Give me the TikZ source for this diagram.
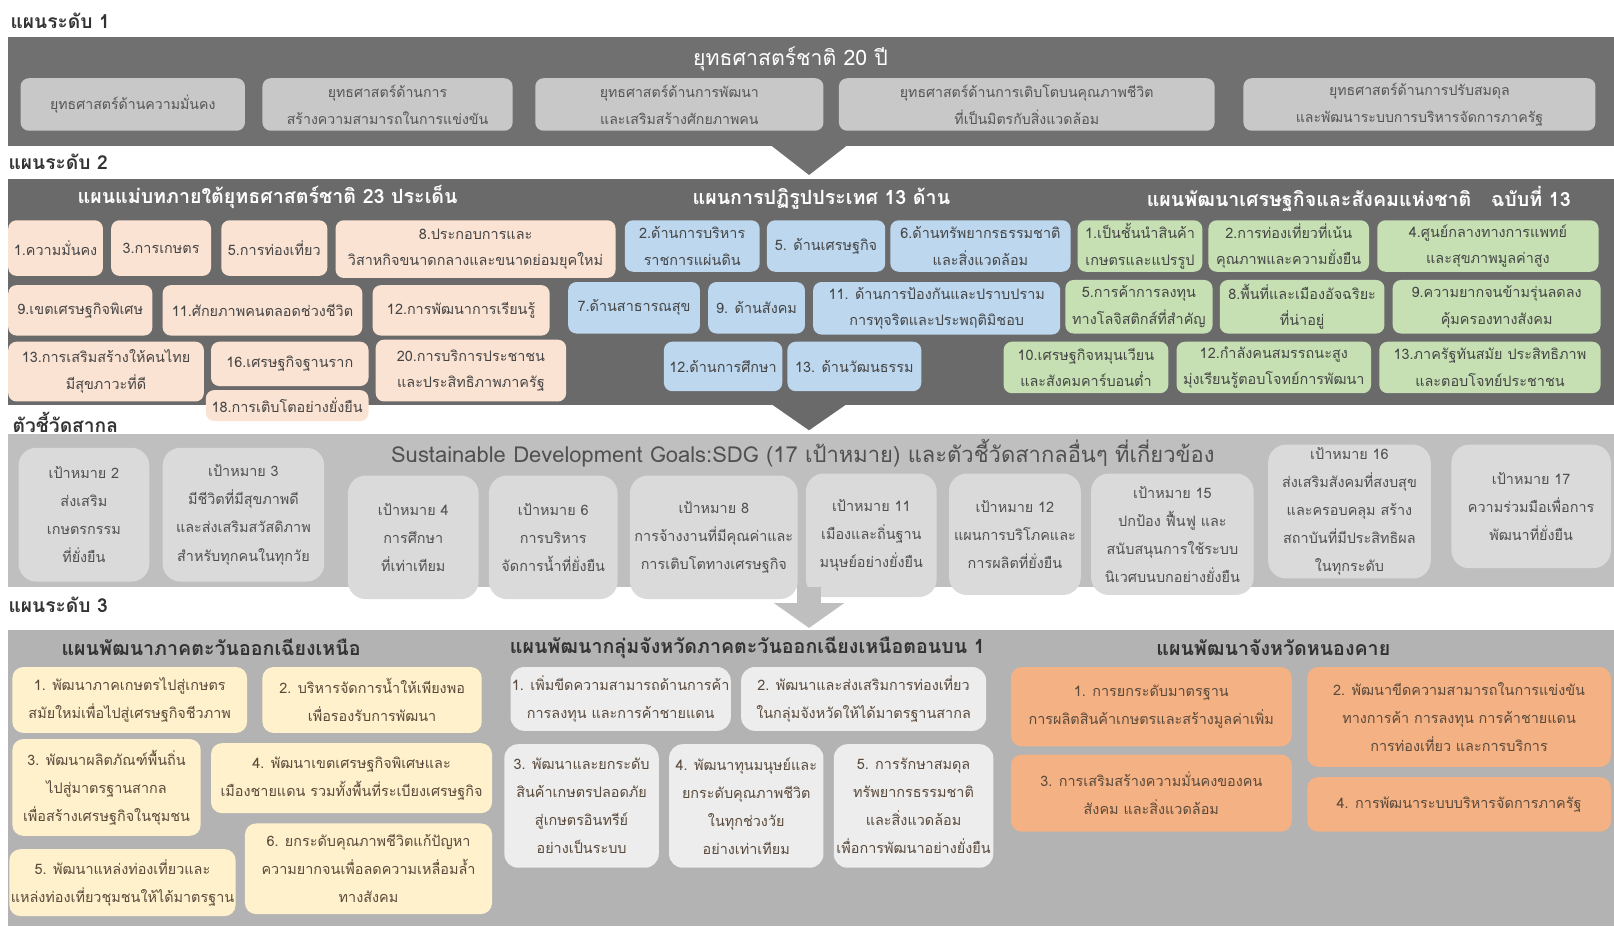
\documentclass[tikz,border=0pt]{standalone}
\usepackage{fontspec}
\setmainfont[Script=Thai]{Loma}
\definecolor{bandA}{HTML}{707070}
\definecolor{boxA}{HTML}{C8C8C8}
\definecolor{txtA}{HTML}{555555}
\definecolor{bandB}{HTML}{6A6A6A}
\definecolor{peach}{HTML}{FBE3D3}
\definecolor{blueb}{HTML}{BDD7EE}
\definecolor{greenb}{HTML}{C6E0B4}
\definecolor{txtB}{HTML}{454545}
\definecolor{bandC}{HTML}{BFBFBF}
\definecolor{boxC}{HTML}{DADADA}
\definecolor{txtC}{HTML}{505050}
\definecolor{bandD}{HTML}{B3B3B3}
\definecolor{yelb}{HTML}{FEF1CB}
\definecolor{whb}{HTML}{EDEDED}
\definecolor{orab}{HTML}{F4B183}
\definecolor{txtD}{HTML}{5A4A3C}
\definecolor{lbl}{HTML}{333333}
\tikzset{
  bx/.style={rounded corners=6pt, inner sep=1pt, align=center, font=\fontsize{10.5pt}{19.5pt}\selectfont},
  band/.style={inner sep=0pt},
  boxa/.style={bx, fill=boxA, text=txtA, font=\fontsize{10.3pt}{19.5pt}\selectfont},
  pe/.style={bx, fill=peach, text=txtB},
  bl/.style={bx, fill=blueb, text=txtB},
  gr/.style={bx, fill=greenb, text=txtB},
  sdg/.style={bx, rounded corners=13pt, fill=boxC, text=txtC, font=\fontsize{10.5pt}{20.5pt}\selectfont},
  ye/.style={bx, rounded corners=8pt, fill=yelb, text=txtD, font=\fontsize{10.5pt}{20.5pt}\selectfont},
  wh/.style={bx, rounded corners=10pt, fill=whb, text=txtD, font=\fontsize{10.5pt}{20.5pt}\selectfont},
  or/.style={bx, rounded corners=8pt, fill=orab, text=txtD, font=\fontsize{10.5pt}{20.5pt}\selectfont},
  lvl/.style={anchor=west, inner sep=0pt, text=lbl, font=\bfseries\fontsize{14pt}{16pt}\selectfont},
  headw/.style={inner sep=0pt, text=white, font=\bfseries\fontsize{14.3pt}{17pt}\selectfont},
  headd/.style={inner sep=0pt, text=lbl, font=\bfseries\fontsize{14.3pt}{17pt}\selectfont},
}
\newcommand{\bx}[7]{\node[#1, minimum width={(#5-#3)*0.75pt}, minimum height={(#6-#4)*0.75pt}] (#2) at ({(#3+#5)/2},{(#4+#6)/2}) {#7};}
\begin{document}
\begin{tikzpicture}[x=0.75pt,y=-0.75pt]
\useasboundingbox (0,0) rectangle (1568,900);
\fill[white] (0,0) rectangle (1568,900);
% ---------- level 1
\node[lvl] (l1) at (10,20) {แผนระดับ 1};
\bx{band, fill=bandA}{b1}{8}{36}{1568}{142}{}
\node[inner sep=0pt, text=white, font=\fontsize{15.5pt}{18pt}\selectfont] (t1) at (768,57) {ยุทธศาสตร์ชาติ 20 ปี};
\bx{boxa}{a1}{20}{76}{238}{127}{ยุทธศาสตร์ด้านความมั่นคง}
\bx{boxa}{a2}{255}{76}{498}{127}{ยุทธศาสตร์ด้านการ\\สร้างความสามารถในการแข่งขัน}
\bx{boxa}{a3}{520}{76}{800}{127}{ยุทธศาสตร์ด้านการพัฒนา\\และเสริมสร้างศักยภาพคน}
\bx{boxa}{a4}{815}{76}{1180}{127}{ยุทธศาสตร์ด้านการเติบโตบนคุณภาพชีวิต\\ที่เป็นมิตรกับสิ่งแวดล้อม}
\bx{boxa}{a5}{1208}{76}{1550}{127}{ยุทธศาสตร์ด้านการปรับสมดุล\\และพัฒนาระบบการบริหารจัดการภาครัฐ}
\fill[bandA] (750,142) -- (822,142) -- (786,170) -- cycle;
% ---------- level 2
\node[lvl] (l2) at (8,157) {แผนระดับ 2};
\bx{band, fill=bandB}{b2}{8}{174}{1568}{393}{}
\node[headw] (h21) at (260,191) {แผนแม่บทภายใต้ยุทธศาสตร์ชาติ 23 ประเด็น};
\node[headw] (h22) at (798,193) {แผนการปฏิรูปประเทศ 13 ด้าน};
\node[headw] (h23) at (1320,193) {แผนพัฒนาเศรษฐกิจและสังคมแห่งชาติ\quad ฉบับที่ 13};
% peach
\bx{pe}{p1}{8}{214}{100}{268}{1.ความมั่นคง}
\bx{pe}{p3}{108}{214}{205}{268}{3.การเกษตร}
\bx{pe}{p5}{215}{214}{318}{268}{5.การท่องเที่ยว}
\bx{pe}{p8}{326}{214}{598}{270}{8.ประกอบการและ\\วิสาหกิจขนาดกลางและขนาดย่อมยุคใหม่}
\bx{pe}{p9}{8}{277}{148}{326}{9.เขตเศรษฐกิจพิเศษ}
\bx{pe}{p11}{158}{277}{352}{326}{11.ศักยภาพคนตลอดช่วงชีวิต}
\bx{pe}{p12}{362}{277}{534}{326}{12.การพัฒนาการเรียนรู้}
\bx{pe}{p13}{8}{332}{198}{390}{13.การเสริมสร้างให้คนไทย\\มีสุขภาวะที่ดี}
\bx{pe}{p16}{205}{332}{358}{375}{16.เศรษฐกิจฐานราก}
\bx{pe}{p20}{365}{330}{550}{390}{20.การบริการประชาชน\\และประสิทธิภาพภาครัฐ}
\bx{pe}{p18}{200}{379}{358}{409}{18.การเติบโตอย่างยั่งยืน}
% blue
\bx{bl}{r2}{607}{214}{738}{264}{2.ด้านการบริหาร\\ราชการแผ่นดิน}
\bx{bl}{r5}{745}{214}{860}{264}{5. ด้านเศรษฐกิจ}
\bx{bl}{r6}{865}{214}{1040}{264}{6.ด้านทรัพยากรธรรมชาติ\\และสิ่งแวดล้อม}
\bx{bl}{r7}{552}{274}{680}{324}{7.ด้านสาธารณสุข}
\bx{bl}{r9}{688}{274}{782}{324}{9. ด้านสังคม}
\bx{bl}{r11}{790}{274}{1030}{325}{11. ด้านการป้องกันและปราบปราม\\การทุจริตและประพฤติมิชอบ}
\bx{bl}{r12}{645}{332}{760}{380}{12.ด้านการศึกษา}
\bx{bl}{r13}{765}{332}{895}{380}{13. ด้านวัฒนธรรม}
% green
\bx{gr}{g1}{1047}{214}{1168}{264}{1.เป็นชั้นนำสินค้า\\เกษตรและแปรรูป}
\bx{gr}{g2}{1174}{214}{1330}{264}{2.การท่องเที่ยวที่เน้น\\คุณภาพและความยั่งยืน}
\bx{gr}{g4}{1338}{214}{1553}{264}{4.ศูนย์กลางทางการแพทย์\\และสุขภาพมูลค่าสูง}
\bx{gr}{g5}{1035}{272}{1178}{324}{5.การค้าการลงทุน\\ทางโลจิสติกส์ที่สำคัญ}
\bx{gr}{g8}{1185}{272}{1345}{324}{8.พื้นที่และเมืองอัจฉริยะ\\ที่น่าอยู่}
\bx{gr}{g9}{1353}{272}{1555}{324}{9.ความยากจนข้ามรุ่นลดลง\\คุ้มครองทางสังคม}
\bx{gr}{g10}{975}{332}{1135}{382}{10.เศรษฐกิจหมุนเวียน\\และสังคมคาร์บอนต่ำ}
\bx{gr}{g12}{1143}{332}{1332}{382}{12.กำลังคนสมรรถนะสูง\\มุ่งเรียนรู้ตอบโจทย์การพัฒนา}
\bx{gr}{g13}{1340}{332}{1555}{382}{13.ภาครัฐทันสมัย ประสิทธิภาพ\\และตอบโจทย์ประชาชน}
\fill[bandB] (750,393) -- (822,393) -- (786,418) -- cycle;
% ---------- SDG
\node[lvl] (l3) at (12,410) {ตัวชี้วัดสากล};
\bx{band, fill=bandC}{b3}{8}{422}{1568}{570}{}
\node[inner sep=0pt, text=txtC, font=\fontsize{16pt}{18pt}\selectfont] (t3) at (780,440) {Sustainable Development Goals:SDG (17 เป้าหมาย) และตัวชี้วัดสากลอื่นๆ ที่เกี่ยวข้อง};
\bx{sdg}{s2}{18}{435}{145}{565}{เป้าหมาย 2\\ส่งเสริม\\เกษตรกรรม\\ที่ยั่งยืน}
\bx{sdg}{s3}{158}{435}{315}{565}{เป้าหมาย 3\\มีชีวิตที่มีสุขภาพดี\\และส่งเสริมสวัสดิภาพ\\สำหรับทุกคนในทุกวัย}
\bx{sdg}{s4}{338}{462}{465}{582}{เป้าหมาย 4\\การศึกษา\\ที่เท่าเทียม}
\bx{sdg}{s6}{475}{462}{600}{582}{เป้าหมาย 6\\การบริหาร\\จัดการน้ำที่ยั่งยืน}
\bx{sdg}{s8}{612}{462}{775}{582}{เป้าหมาย 8\\การจ้างงานที่มีคุณค่าและ\\การเติบโตทางเศรษฐกิจ}
\bx{sdg}{s11}{783}{460}{910}{580}{เป้าหมาย 11\\เมืองและถิ่นฐาน\\มนุษย์อย่างยั่งยืน}
\bx{sdg}{s12}{922}{460}{1050}{578}{เป้าหมาย 12\\แผนการบริโภคและ\\การผลิตที่ยั่งยืน}
\bx{sdg}{s15}{1060}{460}{1218}{578}{เป้าหมาย 15\\ปกป้อง ฟื้นฟู และ\\สนับสนุนการใช้ระบบ\\นิเวศบนบกอย่างยั่งยืน}
\bx{sdg}{s16}{1232}{432}{1390}{562}{เป้าหมาย 16\\ส่งเสริมสังคมที่สงบสุข\\และครอบคลุม สร้าง\\สถาบันที่มีประสิทธิผล\\ในทุกระดับ}
\bx{sdg}{s17}{1410}{432}{1565}{552}{เป้าหมาย 17\\ความร่วมมือเพื่อการ\\พัฒนาที่ยั่งยืน}
\fill[bandC] (774,570) rectangle (798,586);
\fill[bandC] (752,586) -- (820,586) -- (786,610) -- cycle;
% ---------- level 3
\node[lvl] (l4) at (8,588) {แผนระดับ 3};
\bx{band, fill=bandD}{b4}{8}{612}{1568}{900}{}
\node[headd] (h41) at (205,629) {แผนพัฒนาภาคตะวันออกเฉียงเหนือ};
\node[headd] (h42) at (726,629) {แผนพัฒนากลุ่มจังหวัดภาคตะวันออกเฉียงเหนือตอนบน 1};
\node[headd] (h43) at (1237,629) {แผนพัฒนาจังหวัดหนองคาย};
\bx{ye}{y1}{12}{648}{240}{712}{1. พัฒนาภาคเกษตรไปสู่เกษตร\\สมัยใหม่เพื่อไปสู่เศรษฐกิจชีวภาพ}
\bx{ye}{y2}{255}{648}{468}{712}{2. บริหารจัดการน้ำให้เพียงพอ\\เพื่อรองรับการพัฒนา}
\bx{ye}{y3}{12}{718}{195}{812}{3. พัฒนาผลิตภัณฑ์พื้นถิ่น\\ไปสู่มาตรฐานสากล\\เพื่อสร้างเศรษฐกิจในชุมชน}
\bx{ye}{y4}{205}{722}{478}{790}{4. พัฒนาเขตเศรษฐกิจพิเศษและ\\เมืองชายแดน รวมทั้งพื้นที่ระเบียงเศรษฐกิจ}
\bx{ye}{y5}{10}{825}{228}{890}{5. พัฒนาแหล่งท่องเที่ยวและ\\แหล่งท่องเที่ยวชุมชนให้ได้มาตรฐาน}
\bx{ye}{y6}{238}{800}{478}{888}{6. ยกระดับคุณภาพชีวิตแก้ปัญหา\\ความยากจนเพื่อลดความเหลื่อมล้ำ\\ทางสังคม}
\bx{wh}{w1}{496}{648}{710}{710}{1. เพิ่มขีดความสามารถด้านการค้า\\การลงทุน และการค้าชายแดน}
\bx{wh}{w2}{720}{648}{958}{710}{2. พัฒนาและส่งเสริมการท่องเที่ยว\\ในกลุ่มจังหวัดให้ได้มาตรฐานสากล}
\bx{wh}{w3}{490}{723}{640}{843}{3. พัฒนาและยกระดับ\\สินค้าเกษตรปลอดภัย\\สู่เกษตรอินทรีย์\\อย่างเป็นระบบ}
\bx{wh}{w4}{650}{723}{800}{843}{4. พัฒนาทุนมนุษย์และ\\ยกระดับคุณภาพชีวิต\\ในทุกช่วงวัย\\อย่างเท่าเทียม}
\bx{wh}{w5}{810}{723}{965}{843}{5. การรักษาสมดุล\\ทรัพยากรธรรมชาติ\\และสิ่งแวดล้อม\\เพื่อการพัฒนาอย่างยั่งยืน}
\bx{or}{o1}{982}{648}{1255}{725}{1. การยกระดับมาตรฐาน\\การผลิตสินค้าเกษตรและสร้างมูลค่าเพิ่ม}
\bx{or}{o2}{1270}{648}{1565}{745}{2. พัฒนาขีดความสามารถในการแข่งขัน\\ทางการค้า การลงทุน การค้าชายแดน\\การท่องเที่ยว และการบริการ}
\bx{or}{o3}{982}{733}{1255}{808}{3. การเสริมสร้างความมั่นคงของคน\\สังคม และสิ่งแวดล้อม}
\bx{or}{o4}{1270}{755}{1565}{808}{4. การพัฒนาระบบบริหารจัดการภาครัฐ}
\end{tikzpicture}
\end{document}
